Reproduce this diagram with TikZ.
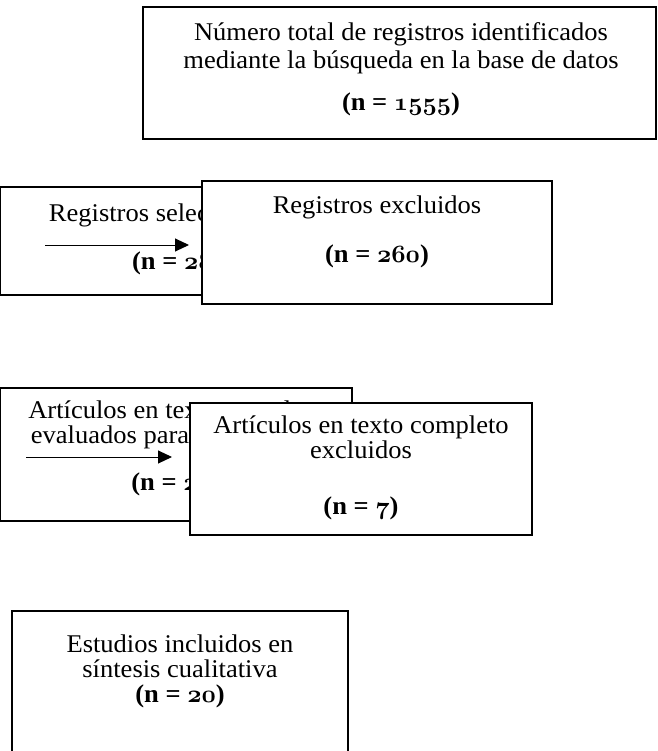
\documentclass[tikz,border=0pt]{standalone}
\usepackage{fontspec}
\setmainfont{Liberation Serif}[FakeStretch=1.04]
\usetikzlibrary{arrows.meta}
\newcommand\osn[1]{{\usefont{OML}{cmm}{b}{it}#1}}
\tikzset{
  box/.style={draw=black, line width=1.5pt, fill=white, rectangle, outer sep=0pt, inner sep=0pt, anchor=north west},
  txt/.style={anchor=base, inner sep=0pt, font=\fontsize{25.5}{27}\selectfont},
  btxt/.style={txt, font=\fontsize{25.5}{27}\selectfont\bfseries},
  arr/.style={line width=1pt, -{Triangle[length=14pt,width=13pt]}}
}
\begin{document}
\begin{tikzpicture}[x=1pt,y=-1pt]
\useasboundingbox (0,0) rectangle (657,751);
% box 1
\node[box, minimum width=513pt, minimum height=132pt] (b1) at (143,7) {};
\node[txt] (t1a) at (401,41) {Número total de registros identificados};
\node[txt] (t1b) at (401,69) {mediante la búsqueda en la base de datos};
\node[btxt] (t1c) at (401,111) {(n = \osn{1555})};
% box 2
\node[box, minimum width=352pt, minimum height=108pt] (b2) at (0,187) {};
\node[txt] (t2a) at (176,222) {Registros seleccionados};
\node[btxt] (t2b) at (184,269) {(n = \osn{287})};
\coordinate (a1s) at (45,245);
\coordinate (a1e) at (189,245);
\draw[arr] (a1s) -- (a1e);
% box 3
\node[box, minimum width=350pt, minimum height=123pt] (b3) at (202,181) {};
\node[txt] (t3a) at (377,214) {Registros excluidos};
\node[btxt] (t3b) at (377,262) {(n = \osn{260})};
% box 4
\node[box, minimum width=352pt, minimum height=133pt] (b4) at (0,388) {};
\node[txt] (t4a) at (176,418) {Artículos en texto completo};
\node[txt] (t4b) at (176,443) {evaluados para elegibilidad};
\node[btxt] (t4c) at (176,490) {(n = \osn{27})};
\coordinate (a2s) at (26,457);
\coordinate (a2e) at (172,457);
\draw[arr] (a2s) -- (a2e);
% box 5
\node[box, minimum width=342pt, minimum height=132pt] (b5) at (190,403) {};
\node[txt] (t5a) at (361,433) {Artículos en texto completo};
\node[txt] (t5b) at (361,458) {excluidos};
\node[btxt] (t5c) at (361,514) {(n = \osn{7})};
% box 6
\node[box, minimum width=336pt, minimum height=160pt] (b6) at (12,611) {};
\node[txt] (t6a) at (180,652) {Estudios incluidos en};
\node[txt] (t6b) at (180,677) {síntesis cualitativa};
\node[btxt] (t6c) at (180,702) {(n = \osn{20})};
\end{tikzpicture}
\end{document}
